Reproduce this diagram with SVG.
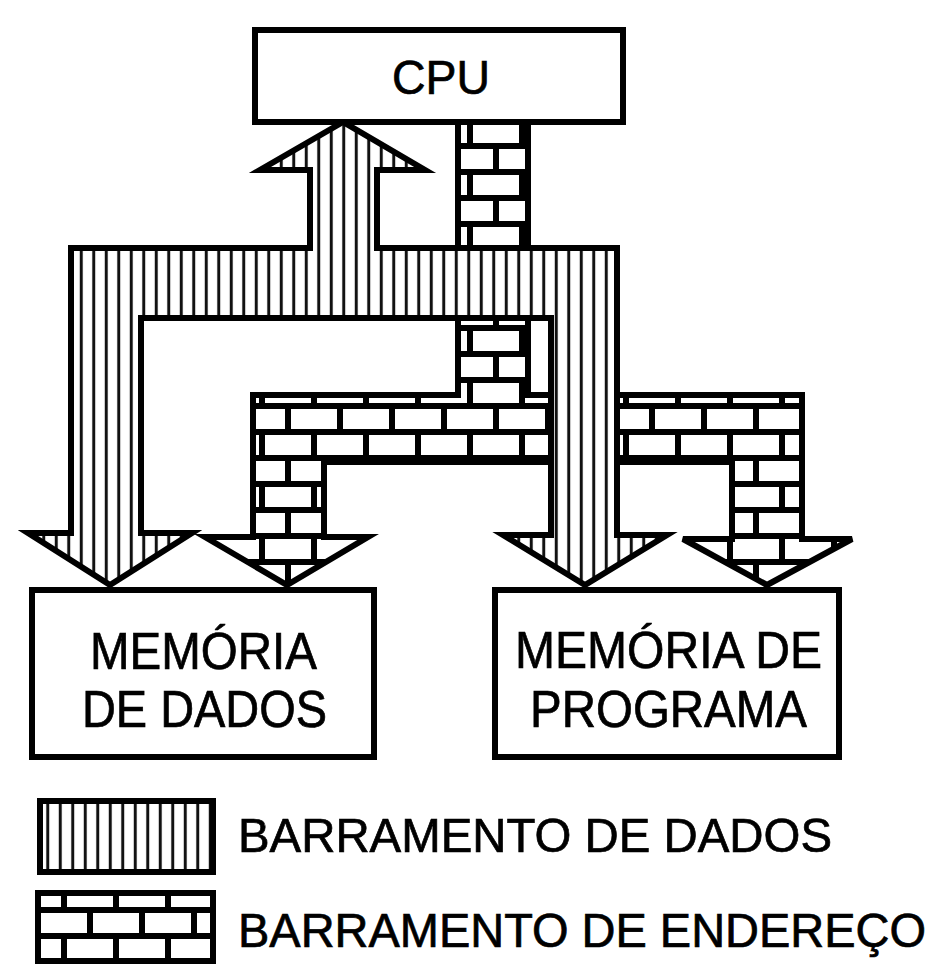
<svg xmlns="http://www.w3.org/2000/svg" width="944" height="967" viewBox="0 0 944 967">
  <style>
    .box { fill: #fff; stroke: #000; stroke-width: 6; }
    .bus { stroke: #000; stroke-width: 6; stroke-linejoin: miter; }
    .lbl { font-family: "Liberation Sans", Arial, sans-serif; fill: #000; stroke: #000; stroke-width: 0.7; }
  </style>
  <defs>
    <pattern id="stripes" patternUnits="userSpaceOnUse" x="0" y="0" width="12.5" height="20">
      <rect width="12.5" height="20" fill="#fff"/>
      <rect x="4.75" y="0" width="3" height="20" fill="#111"/>
    </pattern>
    <pattern id="stripesLeg" patternUnits="userSpaceOnUse" x="4" y="0" width="12.5" height="20">
      <rect width="12.5" height="20" fill="#fff"/>
      <rect x="4.75" y="0" width="3" height="20" fill="#111"/>
    </pattern>
    <g id="brickTile">
      <rect width="52" height="52" fill="#fff"/>
      <g stroke="#000" stroke-width="6">
        <line x1="0" y1="13" x2="52" y2="13"/>
        <line x1="0" y1="39" x2="52" y2="39"/>
        <line x1="2" y1="13" x2="2" y2="39"/>
        <line x1="54" y1="13" x2="54" y2="39"/>
        <line x1="28" y1="39" x2="28" y2="52"/>
        <line x1="28" y1="0" x2="28" y2="13"/>
      </g>
    </g>
    <pattern id="bricks" patternUnits="userSpaceOnUse" x="0" y="3" width="52" height="52">
      <use href="#brickTile"/>
    </pattern>
    <pattern id="bricksLeg" patternUnits="userSpaceOnUse" x="36" y="13" width="52" height="52">
      <use href="#brickTile"/>
    </pattern>
  </defs>

  <rect width="944" height="967" fill="#fff"/>

  <g id="connectors">
    <path id="address-bus" class="bus" fill="url(#bricks)"
      d="M458,122 L458,395 L253,395 L253,537 L205,537 L287,585 L368,537 L324,537 L324,462 L732,462 L732,539 L683,539 L767,585 L852,539 L802,539 L802,395 L528,395 L528,122 Z"/>
    <path id="data-bus" class="bus" fill="url(#stripes)"
      d="M343,122 L260,170 L310,170 L310,248 L71,248 L71,533 L28,533 L110,585 L192,533 L141,533 L141,318 L551,318 L551,535 L503,535 L585,585 L667,535 L617,535 L617,248 L377,248 L377,170 L425,170 Z"/>
  </g>

  <g id="cpu">
    <rect class="box" x="255" y="30" width="368" height="92"/>
    <text class="lbl" x="441" y="94" font-size="49" text-anchor="middle" textLength="98" lengthAdjust="spacingAndGlyphs">CPU</text>
  </g>

  <g id="mem-dados">
    <rect class="box" x="32" y="590" width="342" height="167"/>
    <text class="lbl" x="203.5" y="669" font-size="51" text-anchor="middle" textLength="227" lengthAdjust="spacingAndGlyphs">MEMÓRIA</text>
    <text class="lbl" x="204.5" y="727" font-size="51" text-anchor="middle" textLength="245" lengthAdjust="spacingAndGlyphs">DE DADOS</text>
  </g>

  <g id="mem-programa">
    <rect class="box" x="495" y="590" width="344" height="167"/>
    <text class="lbl" x="668.5" y="668" font-size="51" text-anchor="middle" textLength="307" lengthAdjust="spacingAndGlyphs">MEMÓRIA DE</text>
    <text class="lbl" x="668.5" y="727" font-size="51" text-anchor="middle" textLength="277" lengthAdjust="spacingAndGlyphs">PROGRAMA</text>
  </g>

  <g id="legend">
    <g id="legend-dados">
      <rect x="40" y="801" width="173" height="71" fill="url(#stripesLeg)" stroke="#000" stroke-width="6"/>
      <text class="lbl" x="238" y="852" font-size="49" textLength="594" lengthAdjust="spacingAndGlyphs">BARRAMENTO DE DADOS</text>
    </g>
    <g id="legend-endereco">
      <rect x="38" y="893" width="175" height="68" fill="url(#bricksLeg)" stroke="#000" stroke-width="6"/>
      <text class="lbl" x="238" y="947" font-size="48" textLength="688" lengthAdjust="spacingAndGlyphs">BARRAMENTO DE ENDEREÇO</text>
    </g>
  </g>
</svg>
